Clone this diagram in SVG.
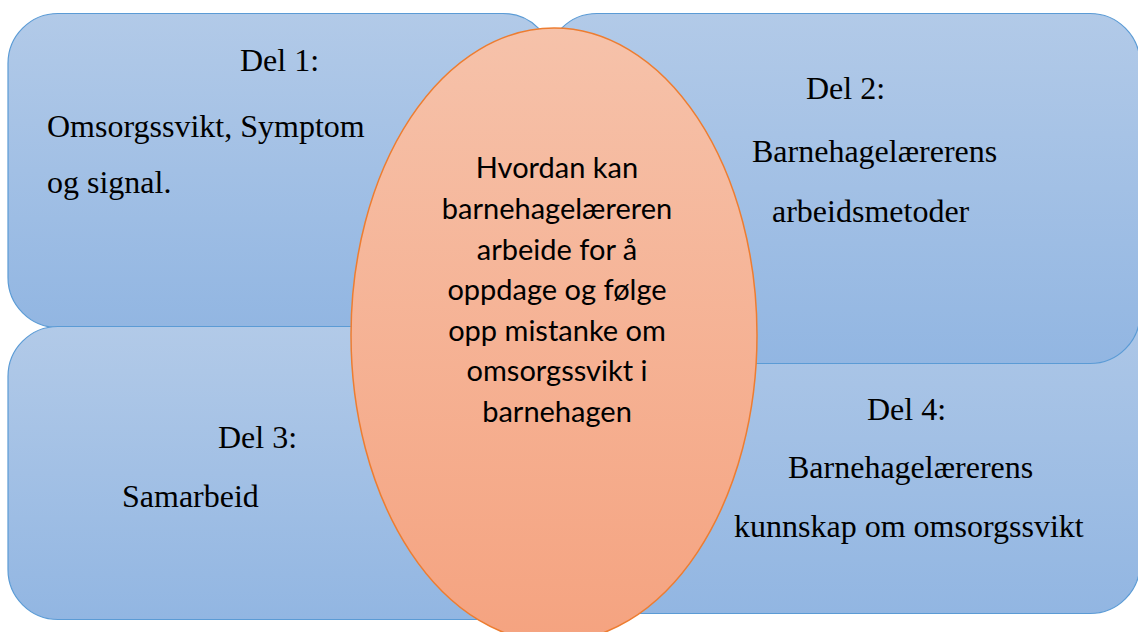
<svg xmlns="http://www.w3.org/2000/svg" width="1138" height="632" viewBox="0 0 1138 632">
  <defs>
    <linearGradient id="gBlue" x1="0" y1="0" x2="0" y2="1">
      <stop offset="0" stop-color="#b2cae8"/>
      <stop offset="1" stop-color="#92b6e2"/>
    </linearGradient>
    <linearGradient id="gOrange" x1="0" y1="0" x2="0" y2="1">
      <stop offset="0" stop-color="#f6c2aa"/>
      <stop offset="1" stop-color="#f5a380"/>
    </linearGradient>
  </defs>
  <style>
    .box { fill: url(#gBlue); stroke: #5b9bd5; stroke-width: 1.2; }
    .oval { fill: url(#gOrange); stroke: #ed7d31; stroke-width: 1.5; }
    .t { font-family: "Liberation Serif", "Times New Roman", serif; font-size: 32px; fill: #000; }
    .c { font-family: Lato, "Open Sans", sans-serif; font-size: 29px; fill: #000; text-anchor: middle; }
  </style>
  <rect width="1138" height="632" fill="#ffffff"/>

  <g id="del4">
    <rect class="box" x="548" y="263.5" width="592" height="350" rx="50" ry="50"/>
    <text class="t" x="867" y="420">Del 4:</text>
    <text class="t" x="788" y="478">Barnehagelærerens</text>
    <text class="t" x="734" y="537">kunnskap om omsorgssvikt</text>
  </g>

  <g id="del2">
    <rect class="box" x="547" y="13.5" width="593" height="350" rx="50" ry="50"/>
    <text class="t" x="806" y="99">Del 2:</text>
    <text class="t" x="752" y="162">Barnehagelærerens</text>
    <text class="t" x="772" y="222">arbeidsmetoder</text>
  </g>

  <g id="del1">
    <rect class="box" x="8" y="13.5" width="545" height="314" rx="50" ry="50"/>
    <text class="t" x="240" y="71">Del 1:</text>
    <text class="t" x="47" y="137">Omsorgssvikt, Symptom</text>
    <text class="t" x="47" y="193">og signal.</text>
  </g>

  <g id="del3">
    <rect class="box" x="8" y="326.5" width="545" height="293" rx="50" ry="50"/>
    <text class="t" x="218" y="448">Del 3:</text>
    <text class="t" x="122" y="507">Samarbeid</text>
  </g>

  <g id="center">
    <ellipse class="oval" cx="554" cy="335" rx="203" ry="307"/>
    <text class="c" x="557" y="178">Hvordan kan</text>
    <text class="c" x="557" y="219">barnehagelæreren</text>
    <text class="c" x="557" y="260">arbeide for å</text>
    <text class="c" x="557" y="300">oppdage og følge</text>
    <text class="c" x="557" y="341">opp mistanke om</text>
    <text class="c" x="557" y="381">omsorgssvikt i</text>
    <text class="c" x="557" y="422">barnehagen</text>
  </g>

  <g id="connectors"/>
</svg>
